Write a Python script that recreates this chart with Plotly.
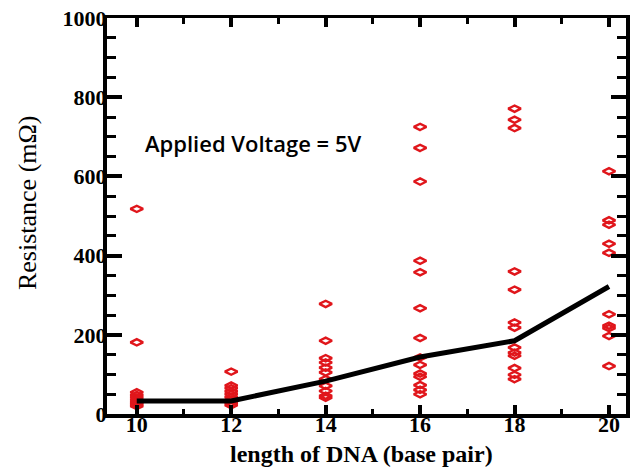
import plotly.graph_objects as go

x_positions = [10, 12, 14, 16, 18, 20]
res_10 = [518, 181, 55, 48, 42, 36, 30, 25, 20]
res_12 = [107, 72, 65, 57, 50, 43, 36, 28, 22]
res_14 = [278, 185, 141, 130, 117, 105, 88, 71, 58, 46, 41]
res_16 = [725, 672, 587, 387, 358, 267, 192, 143, 124, 102, 94, 73, 61, 50]
res_18 = [771, 743, 722, 360, 314, 231, 218, 168, 155, 147, 116, 99, 88]
res_20 = [613, 489, 478, 430, 407, 252, 223, 217, 197, 121]
mean_res = [33, 33, 83, 144, 185, 322]
y_ticks = [0, 200, 400, 600, 800, 1000]

groups = [res_10, res_12, res_14, res_16, res_18, res_20]
xs, ys = [], []
for xv, g in zip(x_positions, groups):
    xs += [xv] * len(g)
    ys += g

fig = go.Figure()
fig.add_trace(go.Scatter(x=x_positions, y=mean_res, mode="lines", xaxis="x2",
                         line=dict(color="black", width=5), showlegend=False, hoverinfo="skip"))
fig.add_trace(go.Scatter(x=xs, y=ys, mode="markers",
                         marker=dict(symbol="diamond-wide-open", size=9, color="#e0161b",
                                     line=dict(width=2.4, color="#e0161b")),
                         showlegend=False))

tickfont = dict(family="Liberation Serif", size=22, color="black", weight="bold")
xrange = [9.37, 20.36]
fig.update_layout(
    width=636, height=468,
    margin=dict(l=107, r=6, t=18, b=54),
    plot_bgcolor="white", paper_bgcolor="white",
    xaxis=dict(range=xrange, tickvals=x_positions, ticks="inside", ticklen=9, tickwidth=4,
               tickcolor="black", showline=True, linewidth=4, linecolor="black",
               showgrid=False, zeroline=False, tickfont=tickfont, ticklabelstandoff=-12,
               minor=dict(dtick=1, tick0=0, ticks="inside", ticklen=5, tickwidth=3, tickcolor="black")),
    xaxis2=dict(range=xrange, overlaying="x", side="top", anchor="y", tickvals=x_positions,
                ticks="inside", ticklen=9, tickwidth=4, tickcolor="black", showline=True,
                linewidth=3, linecolor="black", showgrid=False, zeroline=False,
                showticklabels=False,
                minor=dict(dtick=1, tick0=0, ticks="inside", ticklen=6, tickwidth=3, tickcolor="black")),
    yaxis=dict(range=[0, 1000], tickvals=y_ticks, ticks="inside", ticklen=15,
               tickwidth=4, tickcolor="black", showline=True, linewidth=4, linecolor="black",
               mirror="ticks", showgrid=False, zeroline=False, tickfont=tickfont, ticklabelstandoff=-8,
               minor=dict(dtick=50, tick0=0, ticks="inside", ticklen=9, tickwidth=3, tickcolor="black")),
)
fig.add_annotation(text="length of DNA (base pair)", x=0.49, y=-0.1, xref="paper", yref="paper",
                   xanchor="center", yanchor="middle", showarrow=False,
                   font=dict(family="Liberation Serif", size=24, color="black", weight="bold"))
fig.add_annotation(text="Resistance (mΩ)", x=-0.152, y=0.533, xref="paper", yref="paper",
                   xanchor="center", yanchor="middle", showarrow=False, textangle=-90,
                   font=dict(family="Liberation Serif", size=26, color="black"))
fig.add_annotation(text="Applied Voltage = 5V", x=10.13, y=684, xref="x", yref="y",
                   xanchor="left", yanchor="middle", showarrow=False,
                   font=dict(family="Open Sans", size=22, color="black", weight=600))
fig.write_html("out.html", config={"displayModeBar": False},
               post_script="document.body.style.margin='0';")
